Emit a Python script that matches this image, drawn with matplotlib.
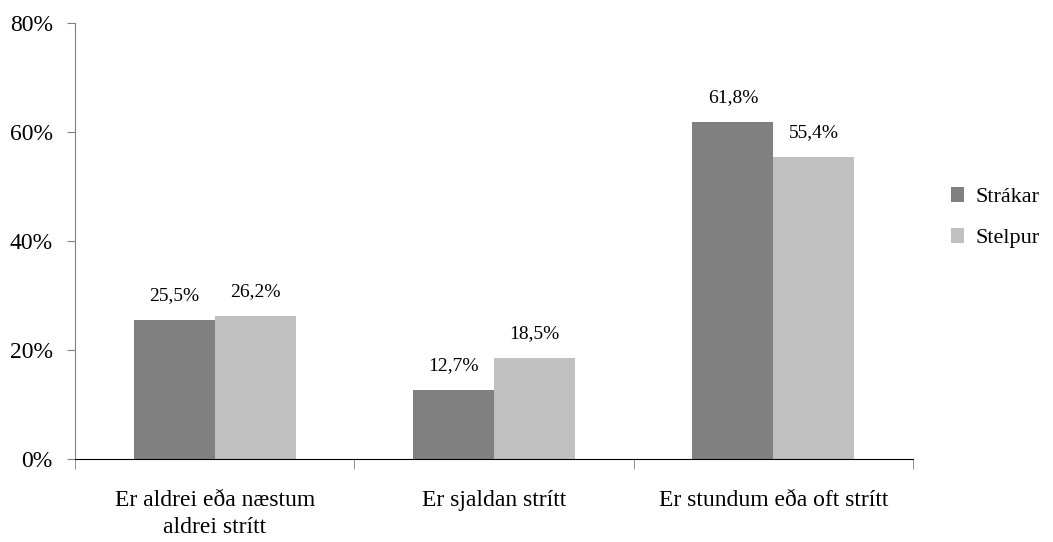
import numpy as np
import matplotlib.pyplot as plt
from matplotlib.ticker import FixedLocator, PercentFormatter

categories = ["Er aldrei eða næstum\naldrei strítt", "Er sjaldan strítt", "Er stundum eða oft strítt"]
series_names = ["Strákar", "Stelpur"]
strakar = [25.5, 12.7, 61.8]
stelpur = [26.2, 18.5, 55.4]
colors = ["#808080", "#C0C0C0"]

plt.rcParams['font.family'] = ['Liberation Serif', 'DejaVu Serif']

fig = plt.figure(figsize=(10.53, 5.42), dpi=100)
ax = fig.add_axes([75 / 1053, 1 - 459 / 542, (913 - 75) / 1053, (459 - 23) / 542])

x = np.arange(len(categories))
w = 0.29
for i, (vals, name) in enumerate(zip([strakar, stelpur], series_names)):
    pos = x + (i - 0.5) * w
    bars = ax.bar(pos, vals, width=w, color=colors[i], label=name)
    for b, v in zip(bars, vals):
        ax.annotate(f"{v:.1f}%".replace(".", ","), (b.get_x() + b.get_width() / 2, v),
                    xytext=(0, 14.5), textcoords="offset points", ha="center", va="baseline",
                    fontsize=14)

ax.set_xlim(-0.5, len(categories) - 0.5)
ax.set_ylim(0, 80)
ax.set_yticks([0, 20, 40, 60, 80])
ax.yaxis.set_major_formatter(PercentFormatter(decimals=0))
ax.tick_params(axis="y", labelsize=17, length=6, pad=10, direction="out", color="#808080")

# category labels at centres, tick marks at boundaries
ax.set_xticks(x)
ax.set_xticklabels(categories, fontsize=17, linespacing=1.4)
ax.tick_params(axis="x", which="major", length=0, pad=22)
ax.xaxis.set_minor_locator(FixedLocator(np.arange(-0.5, len(categories), 1)))
ax.tick_params(axis="x", which="minor", length=7, direction="out", color="#808080")

for s in ["top", "right"]:
    ax.spines[s].set_visible(False)
ax.spines["left"].set_color("#808080")
ax.spines["bottom"].set_color("black")

ax.legend(loc="center left", bbox_to_anchor=((951 - 75) / 838, 0.553), frameon=False, fontsize=16,
          borderaxespad=0, borderpad=0,
          handlelength=0.6, handleheight=0.6, handletextpad=0.5, labelspacing=0.95)

fig.savefig("out.png", dpi=100)
